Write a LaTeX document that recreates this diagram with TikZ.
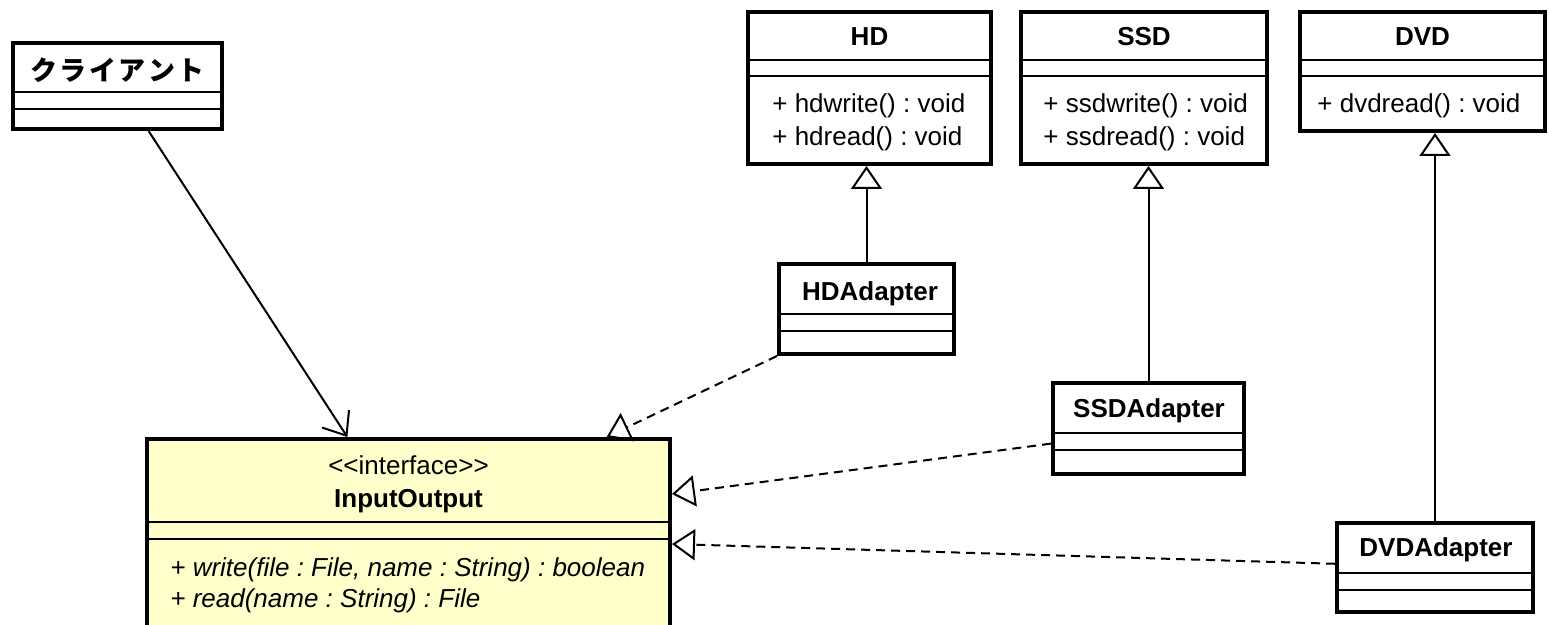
\documentclass[tikz,border=0pt]{standalone}
\usepackage{fontspec}
\setmainfont{Liberation Sans}
\newfontfamily\jpfont{Noto Sans CJK JP}
\usetikzlibrary{arrows.meta,fit,calc}
\definecolor{ioyellow}{RGB}{255,255,204}
\frenchspacing
\begin{document}
\begin{tikzpicture}[x=0.5pt,y=-0.5pt,
  cls/.style={draw=black, line width=2pt, inner sep=0pt, fill=white},
  divider/.style={line width=1pt},
  ctitle/.style={font=\fontsize{13pt}{15pt}\selectfont\bfseries, anchor=base, inner sep=0pt},
  cplain/.style={font=\fontsize{13pt}{15pt}\selectfont, anchor=base, inner sep=0pt},
  member/.style={font=\fontsize{13pt}{15pt}\selectfont, anchor=base west, inner sep=0pt},
  imember/.style={font=\fontsize{13pt}{15pt}\selectfont\itshape, anchor=base west, inner sep=0pt},
  conn/.style={line width=1pt},
  realize/.style={conn, dash pattern=on 4.5pt off 3pt, -{Triangle[open, length=11.5pt, width=15.5pt]}},
  generalize/.style={conn, -{Triangle[open, length=11.5pt, width=15.5pt]}},
  assoc/.style={conn, -{Straight Barb[length=10pt, width=16pt]}}]
\useasboundingbox (0,0) rectangle (1549,625);

% Client
\coordinate (c1) at (13,43); \coordinate (c2) at (222,129);
\node[cls, fit=(c1)(c2)] (client) {};
\draw[divider] (13,92) -- (222,92);
\draw[divider] (13,109) -- (222,109);
\node[ctitle, font=\fontsize{13.5pt}{15pt}\selectfont\jpfont\bfseries] (clientT) at (117.5,81) {ク\kern1.2ptラ\kern1.2ptイ\kern1.2ptア\kern1.2ptン\kern1.2ptト};

% HD
\coordinate (h1) at (748,12); \coordinate (h2) at (991,164);
\node[cls, fit=(h1)(h2)] (hd) {};
\draw[divider] (748,60) -- (991,60);
\draw[divider] (748,76) -- (991,76);
\node[ctitle] (hdT) at (869.5,46) {HD};
\node[member] (hdM1) at (772,113) {+ hdwrite() : void};
\node[member] (hdM2) at (772,146) {+ hdread() : void};

% SSD
\coordinate (s1) at (1021,12); \coordinate (s2) at (1267,164);
\node[cls, fit=(s1)(s2)] (ssd) {};
\draw[divider] (1021,60) -- (1267,60);
\draw[divider] (1021,76) -- (1267,76);
\node[ctitle] (ssdT) at (1144,46) {SSD};
\node[member] (ssdM1) at (1043,113) {+ ssdwrite() : void};
\node[member] (ssdM2) at (1043,146) {+ ssdread() : void};

% DVD
\coordinate (d1) at (1300,12); \coordinate (d2) at (1545,131);
\node[cls, fit=(d1)(d2)] (dvd) {};
\draw[divider] (1300,60) -- (1545,60);
\draw[divider] (1300,76) -- (1545,76);
\node[ctitle] (dvdT) at (1422.5,46) {DVD};
\node[member] (dvdM1) at (1317,113) {+ dvdread() : void};

% HDAdapter
\coordinate (ha1) at (779,264); \coordinate (ha2) at (954,354);
\node[cls, fit=(ha1)(ha2)] (hda) {};
\draw[divider] (779,314) -- (954,314);
\draw[divider] (779,331) -- (954,331);
\node[ctitle] (hdaT) at (870,301) {HDAdapter};

% SSDAdapter
\coordinate (sa1) at (1053,383); \coordinate (sa2) at (1244,474);
\node[cls, fit=(sa1)(sa2)] (ssda) {};
\draw[divider] (1053,433) -- (1244,433);
\draw[divider] (1053,450) -- (1244,450);
\node[ctitle] (ssdaT) at (1149,418) {SSDAdapter};

% DVDAdapter
\coordinate (da1) at (1337,523); \coordinate (da2) at (1533,612);
\node[cls, fit=(da1)(da2)] (dvda) {};
\draw[divider] (1337,573) -- (1533,573);
\draw[divider] (1337,590) -- (1533,590);
\node[ctitle] (dvdaT) at (1436,557) {DVDAdapter};

% InputOutput
\coordinate (i1) at (147,439); \coordinate (i2) at (670,660);
\node[cls, fill=ioyellow, fit=(i1)(i2)] (io) {};
\draw[divider] (147,522) -- (670,522);
\draw[divider] (147,539) -- (670,539);
\node[cplain] (ioS) at (408.5,475) {<\kern0pt<interface>\kern0pt>};
\node[ctitle] (ioT) at (408.5,508) {InputOutput};
\node[imember] (ioM1) at (170,577) {+ write(file : File, name : String) : boolean};
\node[imember] (ioM2) at (170,608) {+ read(name : String) : File};

% Connectors
\draw[assoc] ($(client.south west)!0.646!(client.south east)$) -- ($(io.north west)!0.384!(io.north east)$);
\draw[generalize] (hda.north) -- (hda.north |- hd.south);
\draw[generalize] (ssda.north) -- (ssda.north |- ssd.south);
\draw[generalize] (dvda.north) -- (dvda.north |- dvd.south);
\draw[realize] (hda.south west) -- ($(io.north west)!0.876!(io.north east)$);
\draw[realize] ($(ssda.north west)!0.659!(ssda.south west)$) -- ($(io.north east)+(0,57)$);
\draw[realize] ($(dvda.north west)!0.46!(dvda.south west)$) -- ($(io.north east)+(0,107)$);
\end{tikzpicture}
\end{document}
